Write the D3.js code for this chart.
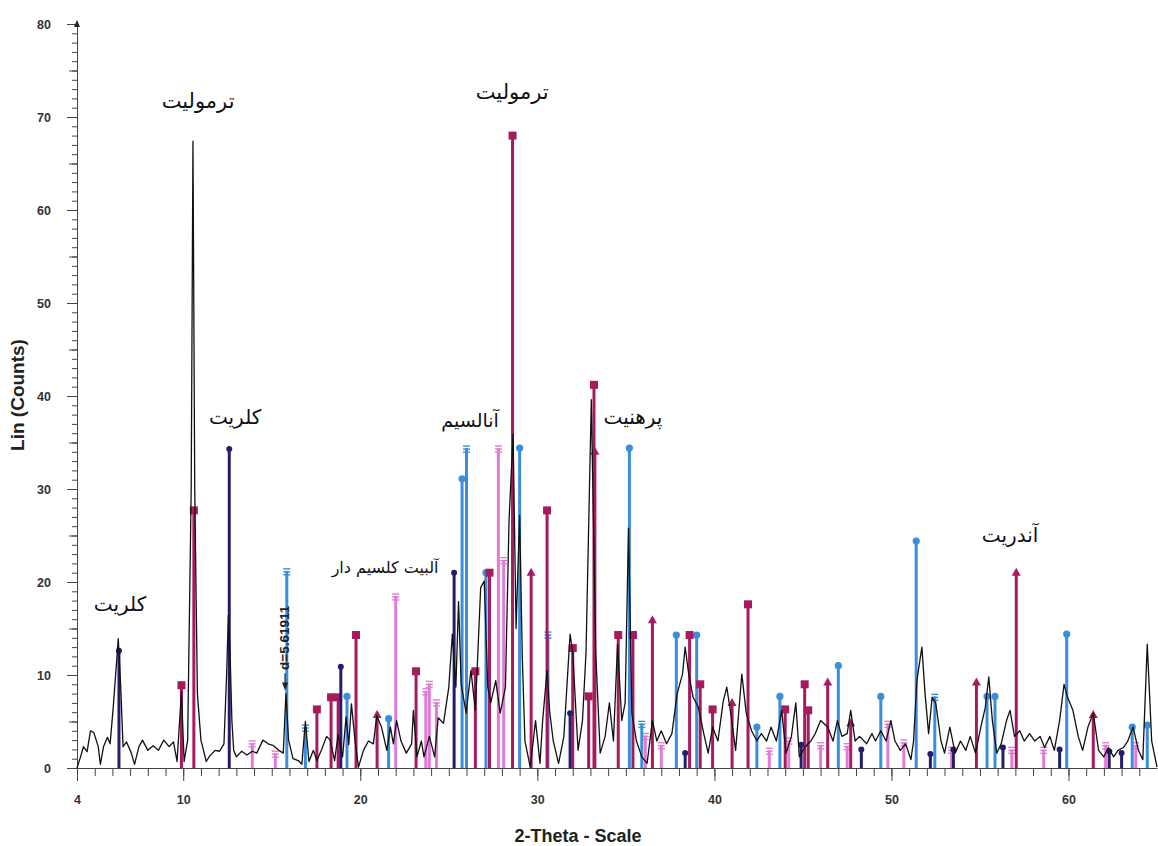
<!DOCTYPE html>
<html>
<head>
<meta charset="utf-8">
<script src="https://cdn.jsdelivr.net/npm/d3@7"></script>
<style>
  body { margin: 0; background: #fff; }
  .axis text { font-family: Arial, "Liberation Sans", sans-serif; font-weight: bold; font-size: 12.5px; fill: #333; }
  .axis path, .axis line { stroke: #444; }
  .phase-label { font-family: "DejaVu Sans", sans-serif; fill: #111; }
</style>
</head>
<body>
<div id="chart"></div>
<script>
// measured pattern: [2-theta, counts]
var trace = [
  [4.0,0],[4.2,1.2],[4.36,2.3],[4.57,1.75],[4.76,4.0],[4.95,3.8],[5.2,2.3],[5.32,0.4],[5.5,2.3],[5.72,3.3],[5.87,2.6],
  [6.05,6.6],[6.2,10.5],[6.33,13.9],[6.47,8.7],[6.6,2.3],[6.8,2.8],[7.07,1.6],[7.25,0.4],[7.5,2.3],[7.7,3.0],[8.0,1.9],
  [8.3,2.4],[8.6,1.9],[8.9,3.0],[9.2,2.3],[9.45,2.8],[9.65,0.7],[9.9,8.2],[10.05,0.7],[10.25,3],[10.45,30],[10.55,67.4],
  [10.65,30],[10.8,8],[11.0,3],[11.3,0.7],[11.5,1.3],[11.8,1.9],[12.05,1.8],[12.3,2.6],[12.45,10],[12.55,16.4],[12.65,12],
  [12.75,5],[12.85,1.9],[13.0,1.2],[13.3,1.8],[13.6,1.4],[13.9,1.8],[14.15,1.6],[14.5,3.0],[14.8,2.6],[15.1,2.4],[15.4,1.9],
  [15.65,1.6],[15.8,8.0],[15.95,3],[16.2,1.0],[16.5,0.8],[16.7,0.4],[16.9,5.0],[17.1,0.7],[17.35,1.9],[17.55,0.8],[17.8,1.9],
  [18.1,3.4],[18.3,3.0],[18.55,0.8],[18.75,3.6],[19.0,1.2],[19.2,5.5],[19.35,2.5],[19.5,6.9],[19.7,3],[19.9,0.1],[20.18,1.9],
  [20.46,2.9],[20.74,2.6],[20.93,5.6],[21.2,4.4],[21.5,1.9],[21.7,4.4],[21.87,2.6],[22.05,5.1],[22.3,2.9],[22.6,1.6],[22.9,2.6],
  [23.0,6.2],[23.2,1.2],[23.45,2.9],[23.6,1.2],[23.9,3.4],[24.2,1.2],[24.4,5.4],[24.7,4.8],[25.0,8.7],[25.2,14.4],[25.4,8.7],
  [25.55,17.9],[25.7,9.0],[25.98,5.9],[26.25,10.5],[26.5,6.2],[26.8,19.4],[27.0,20.1],[27.2,8.7],[27.37,7.0],[27.65,9.4],
  [27.9,5.9],[28.2,8.7],[28.4,26.5],[28.63,35.9],[28.8,15],[29.0,27.2],[29.15,12],[29.3,2.9],[29.6,0.1],[29.9,5.1],[30.15,0.5],
  [30.3,5.1],[30.55,10.5],[30.7,6],[30.9,2.9],[31.2,0.5],[31.5,3.4],[31.85,14.4],[32.0,12.4],[32.3,1.9],[32.55,5.1],[32.75,12.4],
  [33.05,39.6],[33.3,12.4],[33.55,1.6],[33.83,3.4],[34.07,7.0],[34.3,2.9],[34.53,13.3],[34.77,5.1],[34.96,7.0],[35.15,25.8],
  [35.34,5.9],[35.6,2.9],[35.9,1.2],[36.2,0.5],[36.5,5.1],[36.75,2.9],[37.0,4.0],[37.3,2.6],[37.6,3.7],[37.9,8.0],[38.2,10.1],
  [38.35,13.0],[38.55,10.1],[38.8,7.6],[39.1,6.5],[39.4,3.7],[39.65,1.6],[39.9,4.4],[40.2,2.9],[40.5,7.2],[40.7,8.7],[40.9,6.2],
  [41.2,1.9],[41.55,10.1],[41.8,5.9],[42.1,4.0],[42.4,2.9],[42.65,3.7],[42.95,2.9],[43.2,4.4],[43.5,2.9],[43.8,6.2],[44.05,1.6],
  [44.35,3.4],[44.6,7.0],[44.8,1.2],[45.1,2.2],[45.45,2.9],[45.7,3.7],[46.0,5.1],[46.4,4.4],[46.7,2.9],[46.95,5.1],[47.2,3.4],
  [47.5,3.7],[47.7,6.2],[47.95,2.9],[48.2,3.4],[48.6,2.6],[48.9,3.7],[49.1,2.9],[49.4,4.0],[49.7,2.9],[49.97,5.1],[50.2,2.9],
  [50.5,1.9],[50.8,2.6],[51.1,0.9],[51.25,2.9],[51.44,9.4],[51.72,13.0],[51.9,8.0],[52.1,3.7],[52.3,7.6],[52.5,7.0],[52.8,2.9],
  [53.0,1.6],[53.3,4.4],[53.6,1.6],[53.9,2.9],[54.2,1.9],[54.45,3.4],[54.75,1.6],[55.05,4.4],[55.3,6.5],[55.5,9.8],[55.7,5.1],
  [55.95,1.6],[56.2,2.6],[56.5,5.1],[56.7,6.2],[56.95,3.4],[57.25,4.0],[57.5,2.9],[57.8,3.7],[58.1,2.9],[58.4,3.4],[58.65,2.2],
  [58.95,3.4],[59.2,1.9],[59.5,5.1],[59.75,9.0],[59.95,7.6],[60.25,6.2],[60.55,3.4],[60.8,1.9],[61.1,4.4],[61.4,5.9],[61.7,1.9],
  [62.0,1.2],[62.25,2.2],[62.55,1.2],[62.8,1.9],[63.1,2.2],[63.35,2.9],[63.65,4.4],[63.95,1.9],[64.2,0.9],[64.45,13.3],
  [64.7,2.9],[65.0,0.1]
];

// reference sticks per phase: [2-theta, counts]
var tremoliteSticks = [[9.9,8.9],[10.6,27.7],[17.55,6.3],[18.35,7.6],[18.75,7.6],[19.76,14.3],[23.15,10.4],[26.5,10.4],
  [27.3,21.0],[28.6,68.0],[30.55,27.7],[32.0,12.9],[32.9,7.7],[33.2,41.2],[34.57,14.3],[35.4,14.3],[38.6,14.3],[39.2,9.0],
  [39.9,6.3],[41.9,17.6],[44.0,6.3],[45.1,9.0],[45.3,6.2]];
var triangleSticks = [[20.95,5.7],[29.65,21.0],[33.25,34.0],[36.5,15.9],[41.0,7.0],[46.4,9.2],[47.7,4.8],[54.8,9.2],
  [57.05,21.0],[61.4,5.7]];
var circleSticks = [[19.25,7.7],[21.6,5.3],[25.75,31.1],[27.1,21.0],[29.0,34.4],[35.2,34.4],[37.85,14.3],[39.0,14.3],
  [42.4,4.4],[43.7,7.7],[47.0,11.0],[49.4,7.7],[51.4,24.4],[55.4,7.7],[55.85,7.7],[59.9,14.4],[63.6,4.4],[64.45,4.6]];
var barSticks = [[15.85,21.2],[16.9,4.4],[26.0,34.4],[30.6,14.4],[35.9,4.8],[52.45,7.7]];
var chloriteSticks = [[6.37,12.6],[12.6,34.3],[18.9,10.9],[25.3,21.0],[31.85,5.9],[38.35,1.6],[44.9,2.5],[48.3,2.0],
  [52.2,1.5],[53.5,2.0],[56.3,2.2],[59.5,2.0],[62.3,1.8],[63.0,1.6]];
var albiteSticks = [[13.9,2.7],[15.2,1.6],[22.0,18.5],[23.7,8.3],[23.9,9.1],[24.3,7.1],[27.8,34.4],[28.1,22.4],[36.1,3.5],
  [37.0,2.5],[43.1,1.9],[44.2,3.0],[46.0,2.5],[47.5,2.4],[49.8,4.8],[50.7,2.8],[53.4,2.0],[56.8,2.0],[58.6,2.0],[62.1,2.5],[63.8,2.5]];

var xTicks = [4, 10, 20, 30, 40, 50, 60];
var yTicks = [0, 10, 20, 30, 40, 50, 60, 70, 80];

var phaseLabels = [
  {text: "ترمولیت", theta: 10.84, count: 71.7, size: 21},
  {text: "ترمولیت", theta: 28.58, count: 72.7, size: 21},
  {text: "کلریت", theta: 12.93, count: 37.75, size: 20},
  {text: "کلریت", theta: 6.43, count: 17.6, size: 20},
  {text: "آنالسیم", theta: 26.2, count: 37.4, size: 19},
  {text: "آلبیت کلسیم دار", theta: 21.4, count: 21.6, size: 16},
  {text: "پرهنیت", theta: 35.4, count: 37.75, size: 20},
  {text: "آندریت", theta: 56.7, count: 25.1, size: 20}
];

var width = 1158, height = 846;

var xScale = d3.scaleLinear().domain([4, 65]).range([77, 1157]);
var yScale = d3.scaleLinear().domain([0, 80]).range([768, 24]);

var svg = d3.select("#chart").append("svg")
    .attr("width", width)
    .attr("height", height);

// minor ticks
var xMinor = d3.axisBottom(xScale).tickValues(d3.range(5, 65, 1)).tickSize(8).tickFormat("");
svg.append("g").attr("class", "axis").attr("transform", "translate(0,768)").call(xMinor)
    .select(".domain").remove();

var yMinor = d3.axisLeft(yScale).tickValues(d3.range(0, 80, 1)).tickSize(5).tickFormat("");
svg.append("g").attr("class", "axis").attr("transform", "translate(77,0)").call(yMinor)
    .select(".domain").remove();
var yMid = d3.axisLeft(yScale).tickValues(d3.range(5, 80, 10)).tickSize(8).tickFormat("");
svg.append("g").attr("class", "axis").attr("transform", "translate(77,0)").call(yMid)
    .select(".domain").remove();

// main axes
var xAxis = d3.axisBottom(xScale).tickValues(xTicks).tickSize(13).tickPadding(14).tickSizeOuter(0);
svg.append("g").attr("class", "x axis").attr("transform", "translate(0,768)").call(xAxis);

var yAxis = d3.axisLeft(yScale).tickValues(yTicks).tickSize(10).tickPadding(16).tickSizeOuter(0);
svg.append("g").attr("class", "y axis").attr("transform", "translate(77,0)").call(yAxis);

// little arrow at top of the y axis
svg.append("path")
    .attr("d", "M77," + (yScale(80) - 4) + "l-3,7h6z")
    .attr("fill", "#222");

// sticks
function drawSticks(data, color, marker) {
  var g = svg.append("g");
  g.selectAll("line").data(data).enter().append("line")
      .attr("x1", function(d) { return xScale(d[0]); })
      .attr("x2", function(d) { return xScale(d[0]); })
      .attr("y1", yScale(0))
      .attr("y2", function(d) { return yScale(d[1]); })
      .attr("stroke", color)
      .attr("stroke-width", 3);

  var m = g.selectAll(".mk").data(data).enter().append("g")
      .attr("transform", function(d) { return "translate(" + xScale(d[0]) + "," + yScale(d[1]) + ")"; });

  if (marker === "square") {
    m.append("rect").attr("x", -4).attr("y", -4).attr("width", 8).attr("height", 8).attr("fill", color);
  } else if (marker === "circle") {
    m.append("circle").attr("r", 3.6).attr("fill", color);
  } else if (marker === "triangle") {
    m.append("path").attr("d", "M0,-5L4.5,3H-4.5Z").attr("fill", color);
  } else if (marker === "dot") {
    m.append("circle").attr("r", 3).attr("fill", color);
  } else if (marker === "bars") {
    [-2, 1, 4].forEach(function(o) {
      m.append("line").attr("x1", -3.5).attr("x2", 3.5).attr("y1", o).attr("y2", o)
        .attr("stroke", color).attr("stroke-width", 1.4);
    });
  }
}

drawSticks(albiteSticks, "#e27bd6", "bars");
drawSticks(circleSticks, "#3a8edb", "circle");
drawSticks(barSticks, "#3a8edb", "bars");
drawSticks(tremoliteSticks, "#a61b5d", "square");
drawSticks(triangleSticks, "#a61b5d", "triangle");
drawSticks(chloriteSticks, "#241d6e", "dot");

// measured pattern on top
var valueline = d3.line()
    .x(function(d) { return xScale(d[0]); })
    .y(function(d) { return yScale(d[1]); });

svg.append("path")
    .datum(trace)
    .attr("fill", "none")
    .attr("stroke", "#111")
    .attr("stroke-width", 1.3)
    .attr("stroke-linejoin", "round")
    .attr("d", valueline);

// d-spacing annotation
var dx = xScale(15.75);
svg.append("text")
    .attr("transform", "translate(" + (dx - 1) + "," + yScale(14.0) + ") rotate(-90)")
    .attr("text-anchor", "middle")
    .attr("dominant-baseline", "central")
    .style("font-family", "Arial, sans-serif")
    .style("font-weight", "bold")
    .style("font-size", "13.5px")
    .attr("fill", "#222")
    .text("d=5.61911");
svg.append("line")
    .attr("x1", dx).attr("x2", dx)
    .attr("y1", yScale(10.2)).attr("y2", yScale(9.0))
    .attr("stroke", "#222").attr("stroke-width", 1.2);
svg.append("path")
    .attr("d", "M" + (dx - 3) + "," + yScale(9.2) + "l3,8l3,-8z")
    .attr("fill", "#222");

// phase names
svg.selectAll(".phase-label").data(phaseLabels).enter().append("text")
    .attr("class", "phase-label")
    .attr("x", function(d) { return xScale(d.theta); })
    .attr("y", function(d) { return yScale(d.count); })
    .attr("text-anchor", "middle")
    .attr("dominant-baseline", "central")
    .attr("direction", "rtl")
    .style("font-size", function(d) { return d.size + "px"; })
    .text(function(d) { return d.text; });

// axis titles
svg.append("text")
    .attr("transform", "translate(24,395) rotate(-90)")
    .attr("text-anchor", "middle")
    .style("font-family", "Arial, sans-serif")
    .style("font-weight", "bold")
    .style("font-size", "19px")
    .attr("fill", "#222")
    .text("Lin (Counts)");

svg.append("text")
    .attr("x", 578)
    .attr("y", 842)
    .attr("text-anchor", "middle")
    .style("font-family", "Arial, sans-serif")
    .style("font-weight", "bold")
    .style("font-size", "18px")
    .attr("fill", "#222")
    .text("2-Theta - Scale");
</script>
</body>
</html>
